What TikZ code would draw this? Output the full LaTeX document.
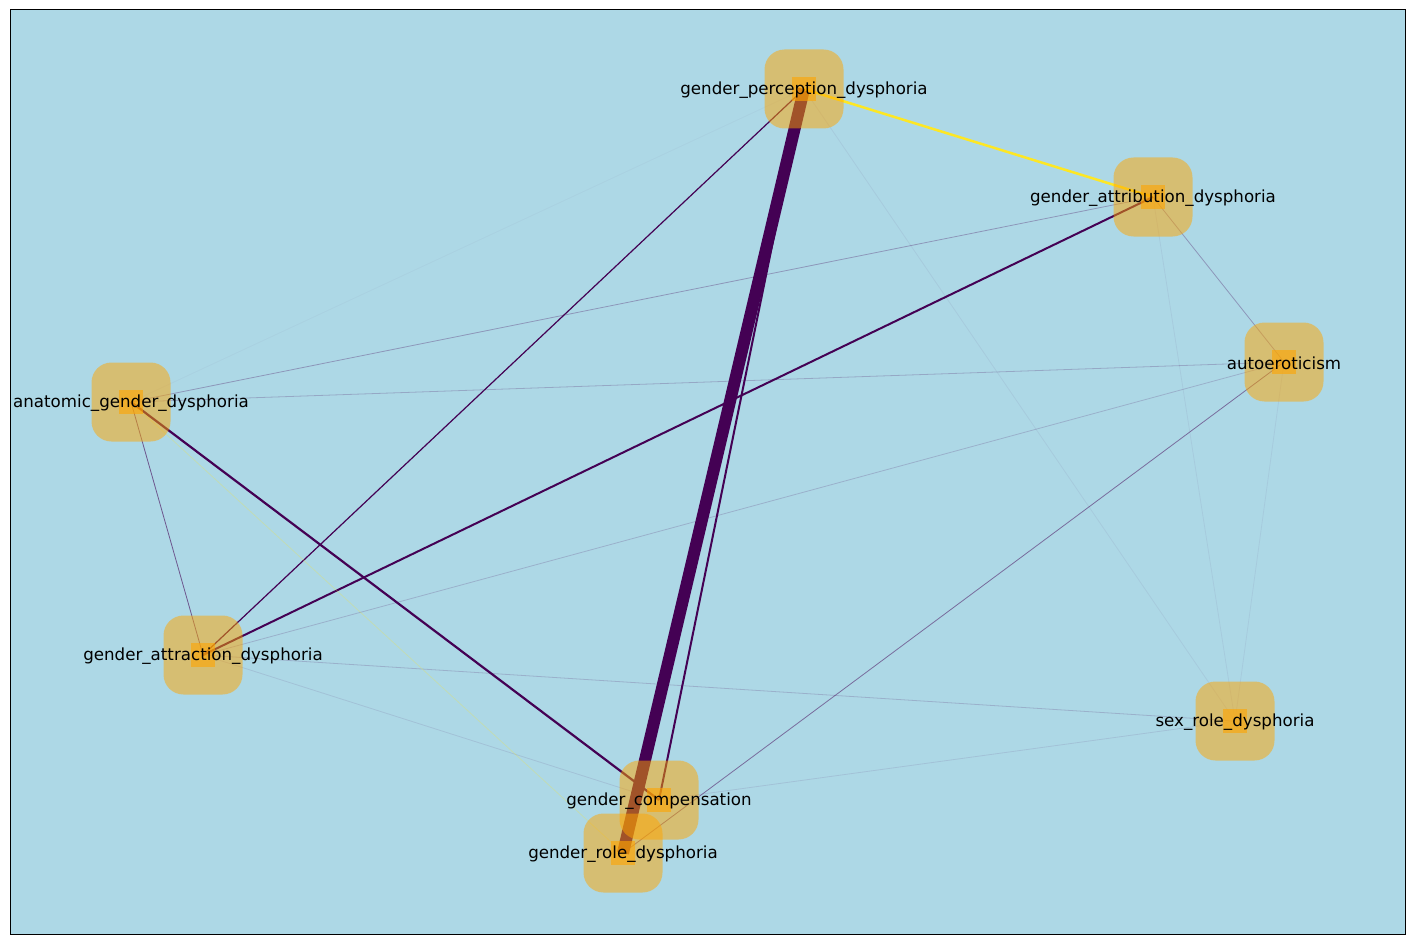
\documentclass[tikz,border=0pt]{standalone}
\usepackage{fontspec}
\setmainfont{DejaVu Sans}
\usepackage{tikz}
\usetikzlibrary{backgrounds}
\definecolor{panel}{HTML}{ADD8E6}
\definecolor{viridisLow}{HTML}{440154}
\definecolor{viridisHigh}{HTML}{FDE725}
\definecolor{marker}{HTML}{FFA500}
\pgfdeclarelayer{edges}
\pgfsetlayers{background,edges,main}

\begin{document}
\begin{tikzpicture}[x=1pt, y=-1pt,
  vertex/.style={minimum size=79pt, inner sep=0pt, rounded corners=20pt, fill=marker, fill opacity=0.5,
    label={[tag]center:#1}},
  core/.style={minimum size=24pt, inner sep=0pt, fill=marker, fill opacity=0.6},
  tag/.style={font=\fontsize{16.67}{20}\selectfont, text=black, text opacity=1, fill opacity=1, inner sep=0pt, yshift=-1.5pt},
  tie/.style={draw=viridisLow, line width=#1},
  weak/.style={draw=viridisLow, draw opacity=#1, line width=0.8pt}
]
  \useasboundingbox (0,0) rectangle (1415,944);
  \begin{pgfonlayer}{background}
    \draw[black, fill=panel, line width=1pt] (10,10) rectangle (1405,934);
  \end{pgfonlayer}

  % small markers first, the rounded boxes and labels over them
  \node[core] (perception-core) at (804,89) {};
  \node[core] (attribution-core) at (1153,197) {};
  \node[core] (autoerot-core) at (1284,362) {};
  \node[core] (anatomic-core) at (131,402) {};
  \node[core] (attraction-core) at (203,655) {};
  \node[core] (sexrole-core) at (1235,721) {};
  \node[core] (compensation-core) at (659,800) {};
  \node[core] (role-core) at (623,853) {};

  \node[vertex={gender\_perception\_dysphoria}] (perception) at (perception-core) {};
  \node[vertex={gender\_attribution\_dysphoria}] (attribution) at (attribution-core) {};
  \node[vertex={autoeroticism}] (autoerot) at (autoerot-core) {};
  \node[vertex={anatomic\_gender\_dysphoria}] (anatomic) at (anatomic-core) {};
  \node[vertex={gender\_attraction\_dysphoria}] (attraction) at (attraction-core) {};
  \node[vertex={sex\_role\_dysphoria}] (sexrole) at (sexrole-core) {};
  \node[vertex={gender\_compensation}] (compensation) at (compensation-core) {};
  \node[vertex={gender\_role\_dysphoria}] (role) at (role-core) {};

  \begin{pgfonlayer}{edges}
    \draw[tie=12pt] (perception.center) -- (role.center);
    \draw[tie=2.5pt, draw=viridisHigh] (perception.center) -- (attribution.center);
    \draw[tie=2pt] (perception.center) -- (compensation.center);
    \draw[tie=1.2pt] (perception.center) -- (attraction.center);
    \draw[tie=2pt] (attribution.center) -- (attraction.center);
    \draw[tie=2.2pt] (anatomic.center) -- (compensation.center);
    \draw[weak=0.6] (anatomic.center) -- (attraction.center);
    \draw[weak=0.5] (autoerot.center) -- (role.center);
    \draw[weak=0.3] (attribution.center) -- (anatomic.center);
    \draw[weak=0.3] (attribution.center) -- (autoerot.center);
    \draw[weak=0.22] (anatomic.center) -- (autoerot.center);
    \draw[weak=0.18] (autoerot.center) -- (attraction.center);
    \draw[weak=0.18] (attraction.center) -- (sexrole.center);
    \draw[weak=0.1] (attraction.center) -- (compensation.center);
    \draw[weak=0.1] (sexrole.center) -- (compensation.center);
    \draw[weak=0.06] (perception.center) -- (sexrole.center);
    \draw[weak=0.06] (attribution.center) -- (sexrole.center);
    \draw[weak=0.06] (autoerot.center) -- (sexrole.center);
    \draw[weak=0.03] (anatomic.center) -- (perception.center);
    \draw[weak=0.25, draw=viridisHigh] (anatomic.center) -- (role.center);
  \end{pgfonlayer}
\end{tikzpicture}
\end{document}
